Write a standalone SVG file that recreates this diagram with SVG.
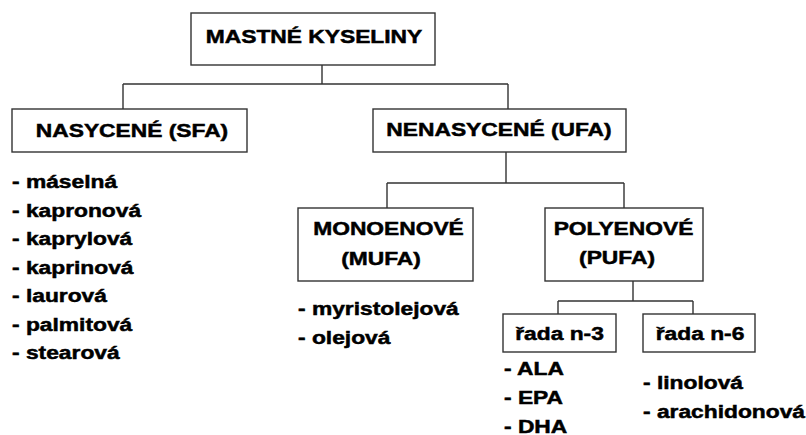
<svg xmlns="http://www.w3.org/2000/svg" width="806" height="435" viewBox="0 0 806 435">
<style>
.box{fill:#fff;stroke:#333;stroke-width:1.4}
.ln{fill:none;stroke:#333;stroke-width:1.4}
text{font-family:"Liberation Sans",Arial,sans-serif;font-weight:bold;font-size:19px;fill:#000;stroke:#000;stroke-width:0.5}
.c{text-anchor:middle}
</style>
<rect width="806" height="435" fill="#fff"/>
<g id="connectors">
<path class="ln" d="M322 65V84M123 84H508M123 84V109M508 84V109"/>
<path class="ln" d="M506 152V183M387 183H624M387 183V208M624 183V208"/>
<path class="ln" d="M633 281V301M558 301H693M558 301V314M693 301V314"/>
</g>
<g id="mastne">
<rect class="box" x="191" y="13" width="244" height="52"/>
<text class="c" transform="translate(314 43) scale(1.2 1)">MASTNÉ KYSELINY</text>
</g>
<g id="sfa">
<rect class="box" x="12" y="109" width="235" height="43"/>
<text class="c" transform="translate(132 137) scale(1.2 1)">NASYCENÉ (SFA)</text>
</g>
<g id="sfa-list">
<text transform="translate(12 188) scale(1.2 1)">- máselná</text>
<text transform="translate(12 216.5) scale(1.2 1)">- kapronová</text>
<text transform="translate(12 245) scale(1.2 1)">- kaprylová</text>
<text transform="translate(12 273.5) scale(1.2 1)">- kaprinová</text>
<text transform="translate(12 302) scale(1.2 1)">- laurová</text>
<text transform="translate(12 330.5) scale(1.2 1)">- palmitová</text>
<text transform="translate(12 359) scale(1.2 1)">- stearová</text>
</g>
<g id="ufa">
<rect class="box" x="373" y="109" width="253" height="43"/>
<text class="c" transform="translate(499 136) scale(1.2 1)">NENASYCENÉ (UFA)</text>
</g>
<g id="mufa">
<rect class="box" x="298" y="208" width="175" height="73"/>
<text class="c" transform="translate(388.5 235) scale(1.2 1)">MONOENOVÉ</text>
<text class="c" transform="translate(381 265) scale(1.2 1)">(MUFA)</text>
</g>
<g id="mufa-list">
<text transform="translate(298 315) scale(1.2 1)">- myristolejová</text>
<text transform="translate(298 344) scale(1.2 1)">- olejová</text>
</g>
<g id="pufa">
<rect class="box" x="545" y="208" width="158" height="73"/>
<text class="c" transform="translate(623.5 235) scale(1.2 1)">POLYENOVÉ</text>
<text class="c" transform="translate(617 264) scale(1.2 1)">(PUFA)</text>
</g>
<g id="n3">
<rect class="box" x="503" y="314" width="113" height="38"/>
<text class="c" transform="translate(559.5 340) scale(1.2 1)">řada n-3</text>
</g>
<g id="n3-list">
<text transform="translate(504 375) scale(1.2 1)">- ALA</text>
<text transform="translate(504 404) scale(1.2 1)">- EPA</text>
<text transform="translate(504 433) scale(1.2 1)">- DHA</text>
</g>
<g id="n6">
<rect class="box" x="643" y="314" width="112" height="38"/>
<text class="c" transform="translate(700 340) scale(1.2 1)">řada n-6</text>
</g>
<g id="n6-list">
<text transform="translate(643 389) scale(1.2 1)">- linolová</text>
<text transform="translate(643 418) scale(1.2 1)">- arachidonová</text>
</g>
</svg>
